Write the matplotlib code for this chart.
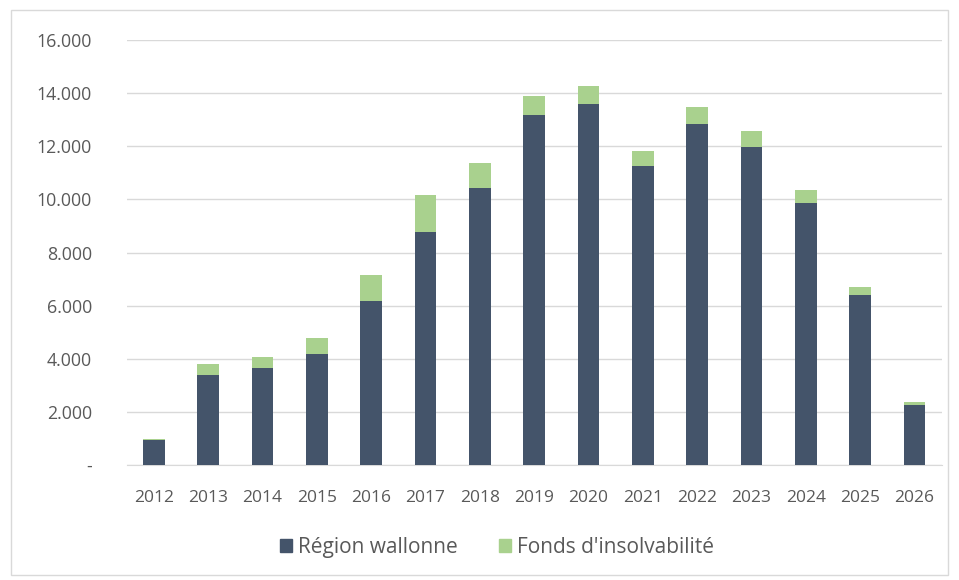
import matplotlib
matplotlib.use("Agg")
import matplotlib.pyplot as plt
from matplotlib.patches import Rectangle

years = ["2012", "2013", "2014", "2015", "2016", "2017", "2018", "2019",
         "2020", "2021", "2022", "2023", "2024", "2025", "2026"]
region_wallonne = [940, 3400, 3640, 4180, 6180, 8760, 10420, 13180,
                   13600, 11250, 12830, 11970, 9860, 6410, 2260]
fonds_insolvabilite = [30, 415, 415, 615, 965, 1395, 945, 715,
                       680, 590, 650, 600, 490, 300, 110]
y_ticks = [0, 2000, 4000, 6000, 8000, 10000, 12000, 14000, 16000]
y_ticklabels = ["-", "2.000", "4.000", "6.000", "8.000", "10.000", "12.000", "14.000", "16.000"]

blue = "#44546A"
green = "#A9D18E"
txt = "#595959"

plt.rcParams['font.family'] = ['Open Sans', 'DejaVu Sans']

fig = plt.figure(figsize=(9.59, 5.80), dpi=100)
ax = fig.add_axes([0.132, 0.198, 0.850, 0.733])

x = list(range(len(years)))
ax.bar(x, region_wallonne, width=0.40, color=blue, label="Région wallonne", zorder=3)
ax.bar(x, fonds_insolvabilite, width=0.40, bottom=region_wallonne, color=green,
       label="Fonds d'insolvabilité", zorder=3)

ax.set_xlim(-0.5, len(years) - 0.5)
ax.set_ylim(0, 16000)
ax.set_yticks(y_ticks)
ax.set_yticklabels(y_ticklabels)
ax.set_xticks(x)
ax.set_xticklabels(years)
ax.yaxis.grid(True, color="#D9D9D9", linewidth=1, zorder=0)
for s in ["top", "right", "left"]:
    ax.spines[s].set_visible(False)
ax.spines["bottom"].set_color("#D9D9D9")
ax.tick_params(axis="y", length=0, labelsize=12.8, colors=txt, pad=25)
ax.tick_params(axis="x", length=0, labelsize=12.5, colors=txt, pad=18)

handles = [Rectangle((0, 0), 1, 1, color=blue), Rectangle((0, 0), 1, 1, color=green)]
fig.legend(handles, ["Région wallonne", "Fonds d'insolvabilité"], loc="center",
           bbox_to_anchor=(0.518, 0.056), ncol=2, frameon=False, fontsize=15,
           labelcolor=txt, handlelength=0.6, handleheight=0.6, handletextpad=0.25,
           columnspacing=2.0)

fig.add_artist(Rectangle((0.011, 0.008), 0.978, 0.975, transform=fig.transFigure,
                         fill=False, edgecolor="#D9D9D9", linewidth=1))

fig.savefig("out.png", dpi=100, facecolor="white")
